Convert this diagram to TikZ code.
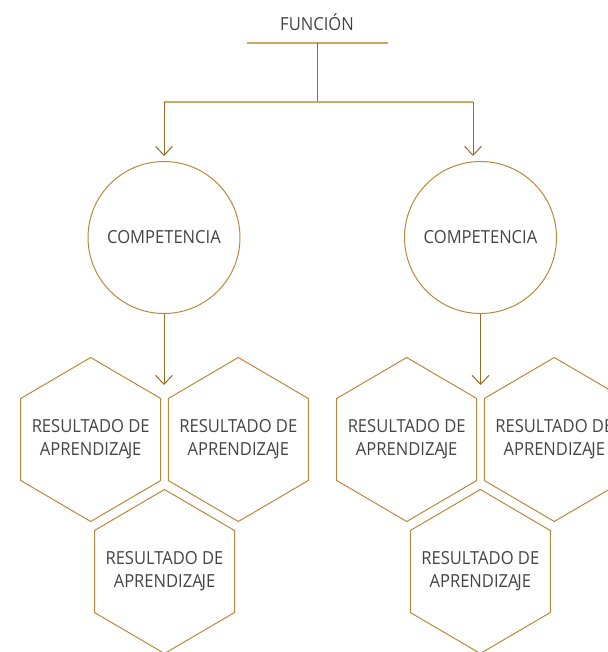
\documentclass[tikz,border=0pt]{standalone}
\usepackage{fontspec}
\setmainfont{Open Sans}[FakeStretch=0.92]
\usetikzlibrary{arrows.meta}
\definecolor{goldln}{HTML}{B8893A}
\definecolor{goldlt}{HTML}{CFA865}
\definecolor{golddk}{HTML}{9A6A22}
\definecolor{txtgray}{HTML}{444444}
\newcommand\hexframe[1]{%
  \draw[hexl] ([shift={(0,-82)}]#1.center) -- ([shift={(70,-41)}]#1.center)
    -- ([shift={(70,41)}]#1.center) -- ([shift={(0,82)}]#1.center)
    -- ([shift={(-70,41)}]#1.center) -- ([shift={(-70,-41)}]#1.center) -- cycle;}
\newcommand\resap{RESULTADO DE\\APRENDIZA\kern-1.2pt JE}
\begin{document}
\begin{tikzpicture}[x=1pt,y=-1pt,
  lbl/.style={font=\fontsize{18}{23.3}\selectfont, text=txtgray, align=center, inner sep=0pt},
  comp/.style={circle, draw=goldln, line width=1pt, minimum size=152pt, inner sep=0pt, lbl},
  hexa/.style={lbl},
  hexl/.style={draw=goldln, line width=1pt, line join=miter},
  arr/.style={golddk, line width=1pt, -{Straight Barb[length=9pt,width=17pt]}},
  vln/.style={golddk, line width=1pt},
  hln/.style={goldlt, line width=1.2pt}]
\useasboundingbox (0,0) rectangle (607,652);
\node[lbl] (f) at (317,22) {FUNCIÓN};
\coordinate (ul1) at (247,43);
\coordinate (ul2) at (388,43);
\coordinate (um) at (317,43);
\coordinate (j) at (317,102);
\coordinate (jl) at (164,102);
\coordinate (jr) at (473,102);
\coordinate (t1) at (164,156);
\coordinate (t2) at (473,156);
\node[comp] (c1) at (164,237.5) {COMPETENCIA};
\node[comp] (c2) at (480.5,237.5) {COMPETENCIA};
\coordinate (b1) at (164,385);
\coordinate (b2) at (480.5,385);
\node[hexa] (h1) at (90.7,439.5) {\resap};
\node[hexa] (h2) at (238.3,439.5) {\resap};
\node[hexa] (h3) at (164.5,571.5) {\resap};
\node[hexa] (h4) at (406.7,439.5) {\resap};
\node[hexa] (h5) at (554.3,439.5) {\resap};
\node[hexa] (h6) at (480.3,571.5) {\resap};
\hexframe{h1}\hexframe{h2}\hexframe{h3}
\hexframe{h4}\hexframe{h5}\hexframe{h6}
\draw[hln] (ul1) -- (ul2);
\draw[vln] (um) -- (j);
\draw[hln] (jl) -- (jr);
\draw[arr] (jl) -- (t1);
\draw[arr] (jr) -- (t2);
\draw[arr] (c1) -- (b1);
\draw[arr] (c2) -- (b2);
\end{tikzpicture}
\end{document}
